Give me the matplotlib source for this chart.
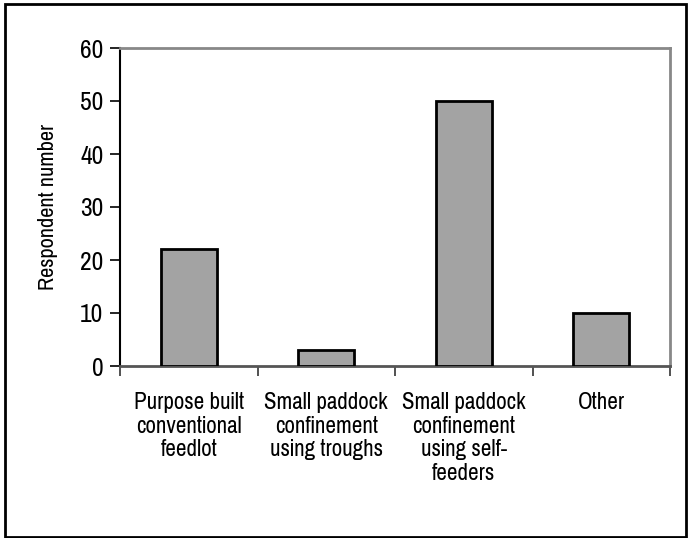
import matplotlib
matplotlib.use("Agg")
import matplotlib.pyplot as plt
from matplotlib.patches import Rectangle

categories = ["Purpose built\nconventional\nfeedlot",
              "Small paddock\nconfinement\nusing troughs",
              "Small paddock\nconfinement\nusing self-\nfeeders",
              "Other"]
values = [22, 3, 50, 10]
yticks = [0, 10, 20, 30, 40, 50, 60]

plt.rcParams["font.family"] = ["Pragati Narrow", "Liberation Sans", "DejaVu Sans"]

W, H = 688, 538
fig = plt.figure(figsize=(W / 100, H / 100), dpi=100)
ax = fig.add_axes([120 / W, 1 - 366 / H, 550 / W, 318 / H])

x = range(len(values))
ax.bar(x, values, width=0.41, color="#a3a3a3", edgecolor="black", linewidth=2, zorder=3)
ax.set_xlim(-0.5, 3.5)
ax.set_ylim(0, 60)
ax.set_yticks(yticks)
ax.set_yticklabels([str(t) for t in yticks], fontsize=20)
ax.set_xticks([-0.5, 0.5, 1.5, 2.5, 3.5])
ax.set_xticklabels([])
ax.set_xticks(list(x), minor=True)
ax.set_xticklabels(categories, minor=True, fontsize=18, linespacing=1.15, va="top")
ax.tick_params(axis="x", which="minor", length=0, pad=19)
ax.tick_params(axis="x", which="major", length=7, width=1.2, color="#333333")
ax.tick_params(axis="y", length=7, width=1.2, color="black", pad=5)
ax.set_ylabel("Respondent number", fontsize=17.5, labelpad=16)

for s in ["top", "right"]:
    ax.spines[s].set_color("#888888")
    ax.spines[s].set_linewidth(2)
ax.spines["left"].set_color("black")
ax.spines["left"].set_linewidth(1.5)
ax.spines["bottom"].set_color("#555555")
ax.spines["bottom"].set_linewidth(2)

# outer chart border
fig.patches.append(Rectangle((5 / W, 1.5 / H), 681 / W, 533 / H, transform=fig.transFigure,
                             fill=False, edgecolor="black", linewidth=2))

fig.savefig("out.png", dpi=100)
